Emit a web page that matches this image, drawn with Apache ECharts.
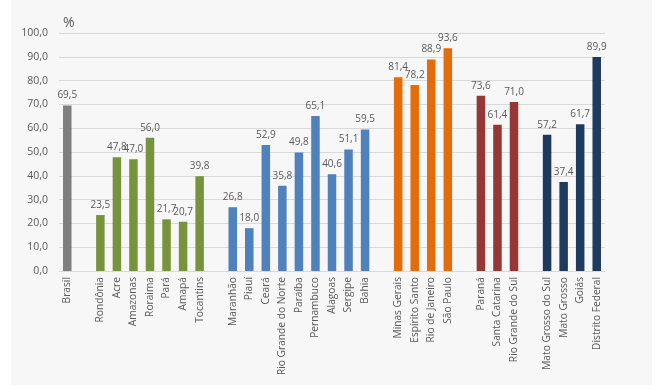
<!DOCTYPE html>
<html>
<head>
<meta charset="utf-8">
<script src="https://cdn.jsdelivr.net/npm/echarts@6/dist/echarts.min.js"></script>
<style>
html,body{margin:0;padding:0;background:#fff;}
#wrap{position:absolute;left:11px;top:0;width:641px;height:385px;background:#f7f7f7;}
#chart{position:absolute;left:0;top:0;width:660px;height:390px;}
</style>
</head>
<body>
<div id="wrap"></div>
<div id="chart"></div>
<script>
// Groups of regions (values in %)
const brasilNames = ['Brasil'];
const brasilValues = [69.5];
const norteNames = ['Rondônia','Acre','Amazonas','Roraima','Pará','Amapá','Tocantins'];
const norteValues = [23.5,47.8,47.0,56.0,21.7,20.7,39.8];
const nordesteNames = ['Maranhão','Piauí','Ceará','Rio Grande do Norte','Paraíba','Pernambuco','Alagoas','Sergipe','Bahia'];
const nordesteValues = [26.8,18.0,52.9,35.8,49.8,65.1,40.6,51.1,59.5];
const sudesteNames = ['Minas Gerais','Espírito Santo','Rio de Janeiro','São Paulo'];
const sudesteValues = [81.4,78.2,88.9,93.6];
const sulNames = ['Paraná','Santa Catarina','Rio Grande do Sul'];
const sulValues = [73.6,61.4,71.0];
const coNames = ['Mato Grosso do Sul','Mato Grosso','Goiás','Distrito Federal'];
const coValues = [57.2,37.4,61.7,89.9];
const groupColors = ['#7f7f7f','#77933c','#4f81bd','#e46c0a','#953735','#1f3a5f'];
const yTicks = [0,10,20,30,40,50,60,70,80,90,100];

const groups = [
  [brasilNames, brasilValues],
  [norteNames, norteValues],
  [nordesteNames, nordesteValues],
  [sudesteNames, sudesteValues],
  [sulNames, sulValues],
  [coNames, coValues]
];
const categories = [];
const data = [];
groups.forEach((g, gi) => {
  if (gi > 0) { categories.push(' '.repeat(gi)); data.push('-'); }
  g[0].forEach((n, i) => {
    categories.push(n);
    data.push({ value: g[1][i], itemStyle: { color: groupColors[gi] } });
  });
});

const FONT = "'Open Sans', sans-serif";
const fmt = v => Number(v).toFixed(1).replace('.', ',');
const chart = echarts.init(document.getElementById('chart'), null, { renderer: 'canvas' });
chart.setOption({
  backgroundColor: 'transparent',
  animation: false,
  textStyle: { fontFamily: FONT },
  title: {
    text: '%', left: 58, top: 11,
    textStyle: { fontSize: 14, fontWeight: 'normal', color: '#595959', fontFamily: FONT }
  },
  grid: { left: 59, right: 55, top: 33, bottom: 119, containLabel: false, outerBoundsMode: 'none' },
  xAxis: {
    type: 'category',
    data: categories,
    axisLine: { lineStyle: { color: '#d9d9d9', width: 1 } },
    axisTick: { show: false },
    axisLabel: {
      rotate: 90, interval: 0, fontSize: 10.2, color: '#595959', margin: 6,
      fontFamily: FONT
    }
  },
  yAxis: {
    type: 'value', min: yTicks[0], max: yTicks[yTicks.length - 1], interval: 10,
    axisLine: { show: false }, axisTick: { show: false },
    splitLine: { lineStyle: { color: '#d9d9d9', width: 1 } },
    axisLabel: { formatter: fmt, fontSize: 10.5, color: '#595959', margin: 11, fontFamily: FONT }
  },
  series: [{
    type: 'bar',
    data: data,
    barWidth: 8.5,
    label: {
      show: true, position: 'top', distance: 5, fontSize: 10, color: '#595959',
      fontFamily: FONT,
      formatter: p => fmt(p.value)
    }
  }]
});
</script>
</body>
</html>
